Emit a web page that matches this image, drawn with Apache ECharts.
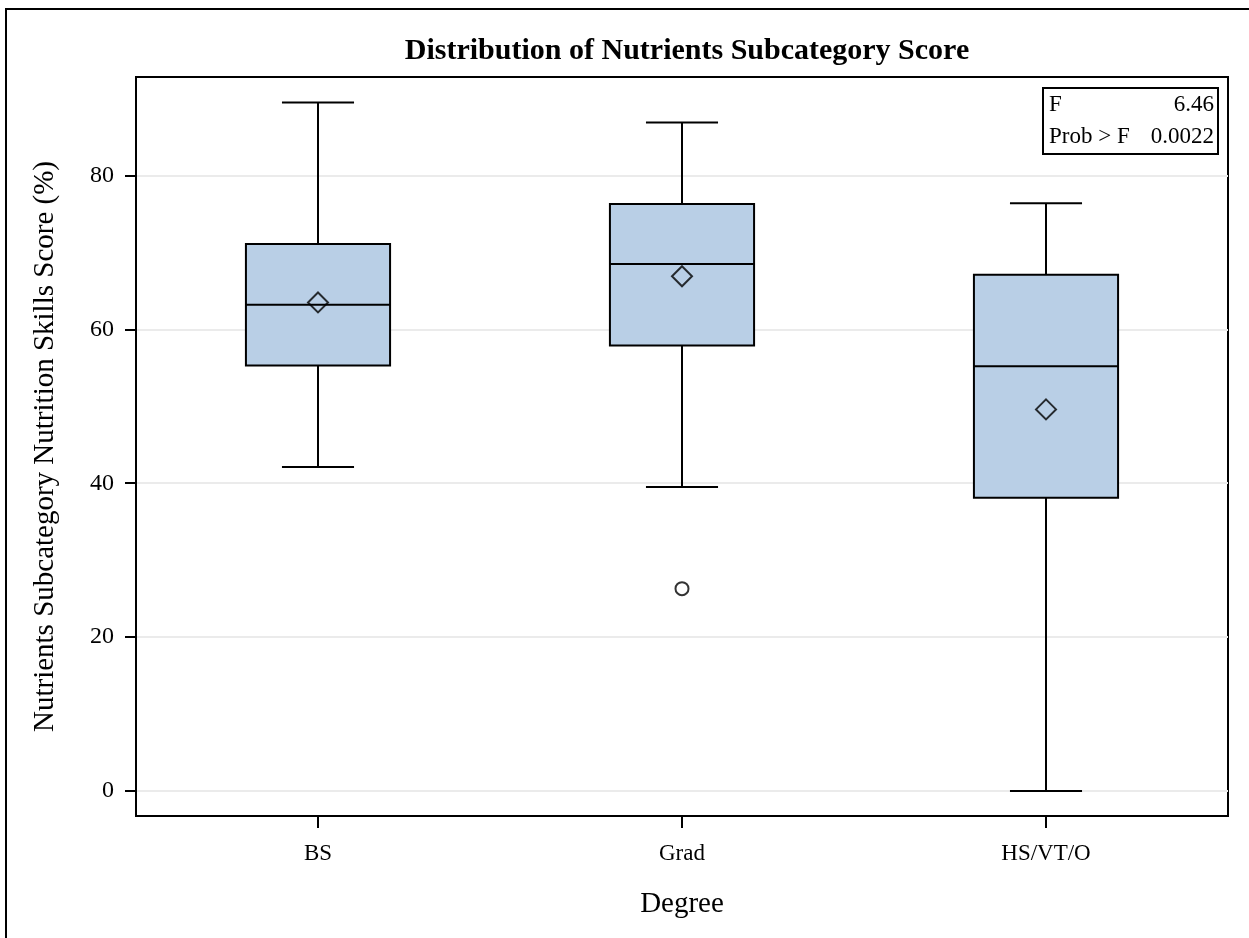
<!DOCTYPE html>
<html>
<head>
<meta charset="utf-8">
<title>Distribution of Nutrients Subcategory Score</title>
<script src="https://cdn.jsdelivr.net/npm/echarts@6/dist/echarts.min.js"></script>
<style>
  html, body { margin: 0; padding: 0; background: #fff; }
  #chart { width: 1249px; height: 938px; }
</style>
</head>
<body>
<div id="chart"></div>
<script>
// Degree groups on the x axis
const categories = ['BS', 'Grad', 'HS/VT/O'];
// Five-number summaries per group: [lower whisker, Q1, median, Q3, upper whisker]
const whiskerLow = [42.1, 39.5, 0.0];
const quartile1 = [55.3, 57.9, 38.1];
const medians = [63.2, 68.5, 55.2];
const quartile3 = [71.1, 76.3, 67.1];
const whiskerHigh = [89.5, 86.9, 76.4];
// Group means (diamond markers)
const means = [63.5, 66.9, 49.6];
// Outliers as [group index, value]
const outliers = [[1, 26.3]];
// Y axis tick values
const yTicks = [0, 20, 40, 60, 80];
// ANOVA statistics shown in the inset
const statLabels = ['F', 'Prob > F'];
const statValues = ['6.46', '0.0022'];

const FONT = 'Liberation Serif';
const boxData = categories.map((c, i) => [i, whiskerLow[i], quartile1[i], medians[i], quartile3[i], whiskerHigh[i]]);

const chart = echarts.init(document.getElementById('chart'), null, { renderer: 'canvas' });

function renderBox(params, api) {
  const i = api.value(0);
  const band = api.size([1, 0])[0];
  const half = band * 0.198;
  const capHalf = half / 2;
  const pLow = api.coord([i, api.value(1)]);
  const pQ1 = api.coord([i, api.value(2)]);
  const pMed = api.coord([i, api.value(3)]);
  const pQ3 = api.coord([i, api.value(4)]);
  const pHigh = api.coord([i, api.value(5)]);
  const x = pQ1[0];
  const lineStyle = { stroke: '#000', lineWidth: 2 };
  return {
    type: 'group',
    children: [
      { type: 'line', shape: { x1: x, y1: pQ1[1], x2: x, y2: pLow[1] }, style: lineStyle },
      { type: 'line', shape: { x1: x, y1: pQ3[1], x2: x, y2: pHigh[1] }, style: lineStyle },
      { type: 'line', shape: { x1: x - capHalf, y1: pLow[1], x2: x + capHalf, y2: pLow[1] }, style: lineStyle },
      { type: 'line', shape: { x1: x - capHalf, y1: pHigh[1], x2: x + capHalf, y2: pHigh[1] }, style: lineStyle },
      { type: 'rect', shape: { x: x - half, y: pQ3[1], width: half * 2, height: pQ1[1] - pQ3[1] },
        style: { fill: '#B9CFE6', stroke: '#000', lineWidth: 2 } },
      { type: 'line', shape: { x1: x - half, y1: pMed[1], x2: x + half, y2: pMed[1] }, style: lineStyle }
    ]
  };
}

const statFont = '23px "Liberation Serif"';

const option = {
  backgroundColor: '#fff',
  animation: false,
  title: {
    text: 'Distribution of Nutrients Subcategory Score',
    left: 682,
    top: 31,
    textAlign: 'center',
    textStyle: { fontFamily: FONT, fontWeight: 'bold', fontSize: 30, color: '#000' }
  },
  grid: {
    left: 136, right: 21, top: 77, bottom: 122,
    show: true, borderColor: '#000', borderWidth: 2, backgroundColor: 'transparent'
  },
  xAxis: {
    type: 'category',
    data: categories,
    name: 'Degree',
    nameLocation: 'middle',
    nameGap: 74,
    nameTextStyle: { fontFamily: FONT, fontSize: 29, color: '#000' },
    axisLine: { show: true, onZero: false, lineStyle: { color: '#000', width: 2 } },
    axisTick: { show: true, inside: false, interval: 0, alignWithLabel: true, length: 12, lineStyle: { color: '#000', width: 2 } },
    axisLabel: { fontFamily: FONT, fontSize: 23, color: '#000', margin: 26 },
    splitLine: { show: false }
  },
  yAxis: {
    type: 'value',
    min: -3.25,
    max: 92.8,
    name: 'Nutrients Subcategory Nutrition Skills Score (%)',
    nameLocation: 'middle',
    nameGap: 76,
    nameTextStyle: { fontFamily: FONT, fontSize: 29, color: '#000' },
    axisLine: { show: true, onZero: false, lineStyle: { color: '#000', width: 2 } },
    axisTick: { show: true, length: 11, lineStyle: { color: '#000', width: 2 }, customValues: yTicks },
    axisLabel: { fontFamily: FONT, fontSize: 24, color: '#000', margin: 22, customValues: yTicks },
    splitLine: { show: true, lineStyle: { color: '#EBEBEB', width: 2 } }
  },
  series: [
    {
      type: 'custom',
      renderItem: renderBox,
      data: boxData,
      encode: { x: 0, y: [1, 2, 3, 4, 5] },
      z: 2
    },
    {
      type: 'scatter',
      data: means.map((m, i) => [i, m]),
      symbol: 'diamond',
      symbolSize: 20,
      itemStyle: { color: 'transparent', borderColor: '#000', borderWidth: 2 },
      z: 3
    },
    {
      type: 'scatter',
      data: outliers,
      symbol: 'circle',
      symbolSize: 13,
      itemStyle: { color: '#fff', borderColor: '#000', borderWidth: 2 },
      z: 3
    }
  ],
  graphic: [
    // outer frame (left and top edges)
    { type: 'polyline', shape: { points: [[6, 938], [6, 9], [1249, 9]] }, style: { stroke: '#000', lineWidth: 2, fill: null } },
    // statistics inset
    {
      type: 'group', left: 1042, top: 87,
      children: [
        { type: 'rect', shape: { x: 0, y: 0, width: 175, height: 66 }, style: { fill: '#fff', stroke: '#000', lineWidth: 2 } },
        { type: 'text', x: 6, y: 17, style: { text: statLabels[0], font: statFont, fill: '#000', textVerticalAlign: 'middle' } },
        { type: 'text', x: 171, y: 17, style: { text: statValues[0], font: statFont, fill: '#000', textAlign: 'right', textVerticalAlign: 'middle' } },
        { type: 'text', x: 6, y: 49, style: { text: statLabels[1], font: statFont, fill: '#000', textVerticalAlign: 'middle' } },
        { type: 'text', x: 171, y: 49, style: { text: statValues[1], font: statFont, fill: '#000', textAlign: 'right', textVerticalAlign: 'middle' } }
      ]
    }
  ]
};

chart.setOption(option);
</script>
</body>
</html>
